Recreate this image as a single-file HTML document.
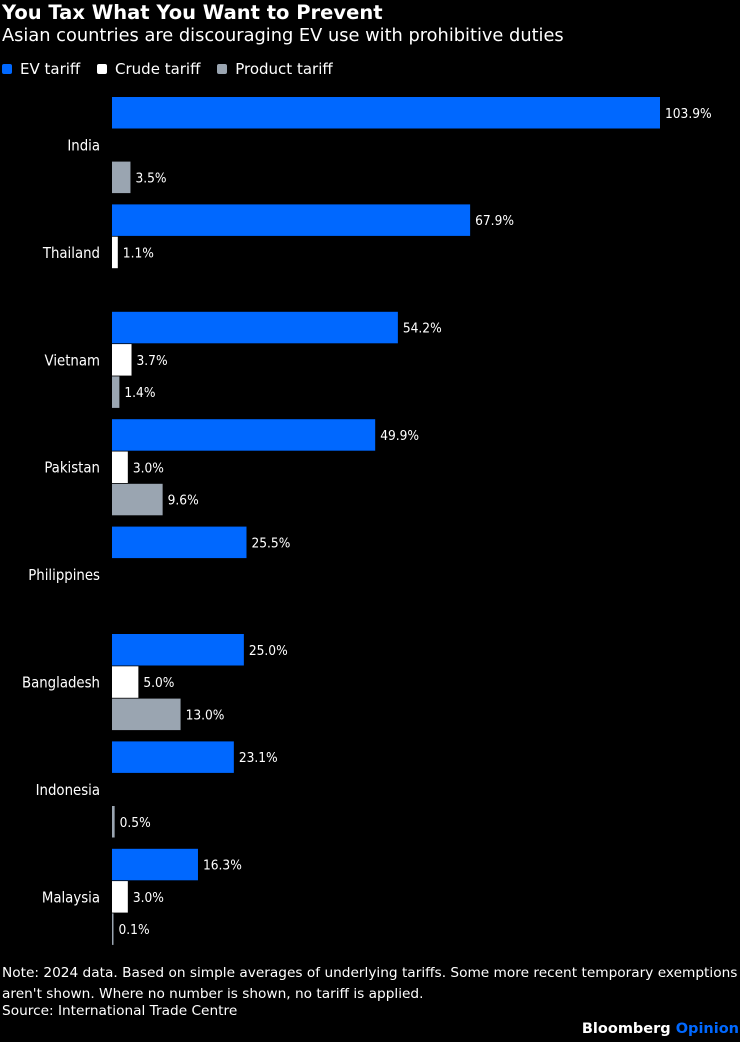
<!DOCTYPE html>
<html><head><meta charset="utf-8">
<style>
html,body{margin:0;padding:0;background:#000;}
body{width:740px;height:1042px;position:relative;overflow:hidden;font-family:"DejaVu Sans","Liberation Sans",sans-serif;color:#fff;}
.t{position:absolute;white-space:nowrap;}
</style></head><body>
<div class="t" style="left:2px;top:1px;font-size:19.5px;font-weight:bold;">You Tax What You Want to Prevent</div>
<div class="t" style="left:2px;top:25px;font-size:17.8px;">Asian countries are discouraging EV use with prohibitive duties</div>
<div class="t" style="left:2px;top:60px;font-size:15px;">
<span><span style="display:inline-block;width:10px;height:10px;background:#0068ff;border-radius:2px;margin-right:8px;"></span>EV tariff</span>
<span style="margin-left:12px;"><span style="display:inline-block;width:10px;height:10px;background:#fff;border-radius:2px;margin-right:8px;"></span>Crude tariff</span>
<span style="margin-left:12px;"><span style="display:inline-block;width:10px;height:10px;background:#9aa5b1;border-radius:2px;margin-right:8px;"></span>Product tariff</span>
</div>
<svg id="chart" width="740" height="960" style="position:absolute;left:0;top:0;font-family:'DejaVu Sans Condensed','DejaVu Sans',sans-serif;"></svg>
<div class="t" style="left:2px;top:963px;font-size:13.7px;line-height:21px;">Note: 2024 data. Based on simple averages of underlying tariffs. Some more recent temporary exemptions<br>aren't shown. Where no number is shown, no tariff is applied.</div>
<div class="t" style="left:2px;top:1003px;font-size:13.7px;">Source: International Trade Centre</div>
<div class="t" style="right:1px;top:1021px;font-size:14.5px;font-weight:bold;">Bloomberg <span style="color:#0068ff;">Opinion</span></div>
<script>
const countries=["India","Thailand","Vietnam","Pakistan","Philippines","Bangladesh","Indonesia","Malaysia"];
const evTariff=[103.9,67.9,54.2,49.9,25.5,25.0,23.1,16.3];
const crudeTariff=[null,1.1,3.7,3.0,null,5.0,null,3.0];
const productTariff=[3.5,null,1.4,9.6,null,13.0,0.5,0.1];
const NS="http://www.w3.org/2000/svg";
const svg=document.getElementById('chart');
const x0=112,pxPerPct=548/103.9;
const xs=v=>v*pxPerPct;
const groupTop=i=>97+i*107.4;
const slotH=32.3,barH=31.5;
const series=[[evTariff,"#0068ff","ev"],[crudeTariff,"#ffffff","crude"],[productTariff,"#9aa5b1","product"]];
countries.forEach((c,i)=>{
  const t=document.createElementNS(NS,'text');
  t.setAttribute('x',100);t.setAttribute('y',groupTop(i)+slotH*1.5+5);
  t.setAttribute('text-anchor','end');t.setAttribute('fill','#fff');t.setAttribute('font-size','14.8');
  t.textContent=c;
  
  
  svg.appendChild(t);
  series.forEach((s,j)=>{
    const v=s[0][i];if(v==null)return;
    const y=groupTop(i)+j*slotH;
    const r=document.createElementNS(NS,'rect');
    r.setAttribute('x',x0);r.setAttribute('y',y);
    r.setAttribute('width',Math.max(xs(v),1.5));r.setAttribute('height',barH);
    r.setAttribute('fill',s[1]);
    
    
    svg.appendChild(r);
    const l=document.createElementNS(NS,'text');
    l.setAttribute('x',x0+Math.max(xs(v),1.5)+5);l.setAttribute('y',y+barH/2+5);
    l.setAttribute('fill','#fff');l.setAttribute('font-size','13.6');
    l.textContent=v.toFixed(1)+'%';
    
    
    svg.appendChild(l);
  });
});
</script>
</body></html>
